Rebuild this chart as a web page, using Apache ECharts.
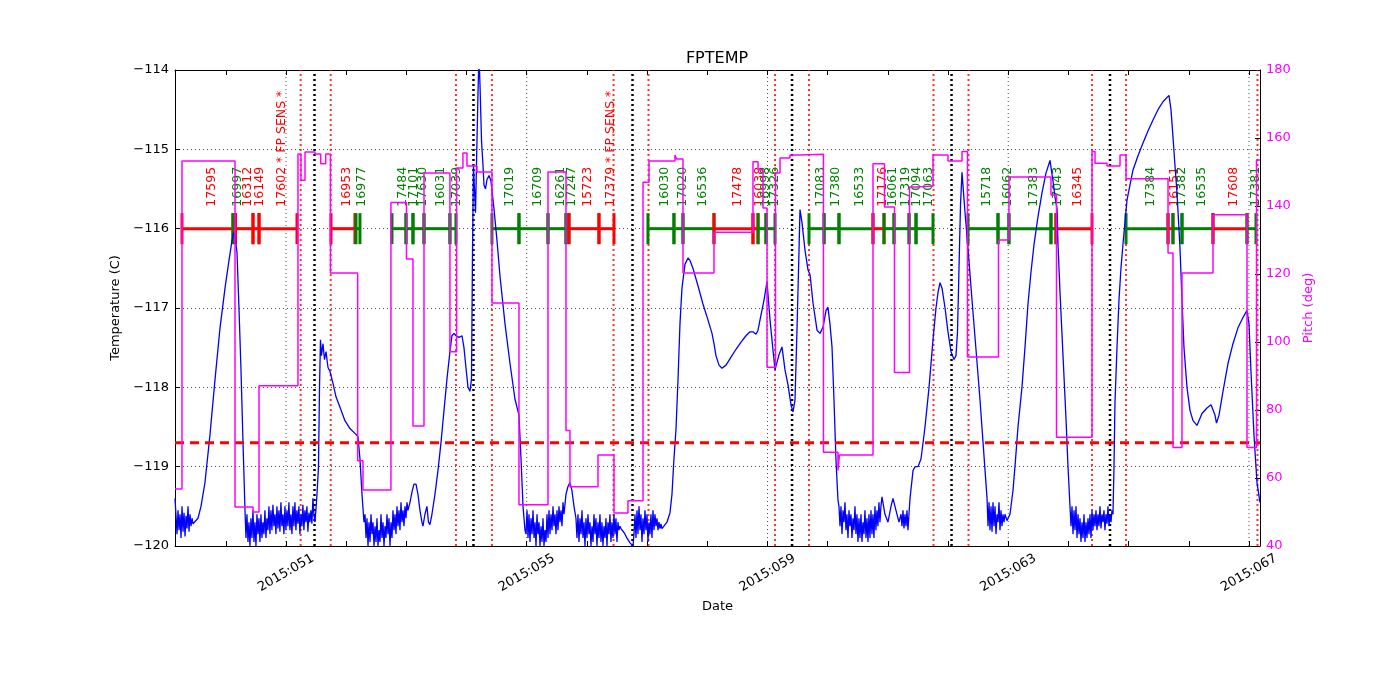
<!DOCTYPE html>
<html><head><meta charset="utf-8">
<script src="https://cdn.jsdelivr.net/npm/echarts@6/dist/echarts.min.js"></script>
<style>html,body{margin:0;padding:0;background:#fff}#c{width:1400px;height:700px}</style>
</head><body><div id="c"></div>
<script>
// ---------- DATA (time in fractional day-of-year 2015) ----------
const X_MIN = 49.156, X_MAX = 67.183;
const dayTicks = [50,51,52,53,54,55,56,57,58,59,60,61,62,63,64,65,66,67];
const dayLabels = [51,55,59,63,67];
const tempTicks = [-120,-119,-118,-117,-116,-115,-114];
const pitchTicks = [40,60,80,100,120,140,160,180];
const planningLimit = -118.7;
const sensLines = [51.244,51.743,53.824,54.422,56.442,57.023,59.125,59.690,61.758,62.340,64.392,64.957,67.141];
const perigeeLines = [51.474,54.115,56.757,59.408,62.058,64.691];

// FPTEMP: smooth stretches as [day, degC]; noisy stretches as regularly sampled values
const DT = 0.0166;
const T0 = [[49.156,-119.40]];
const N1 = {t0:49.173, v:[-119.62,-119.85,-119.55,-119.8,-119.6,-119.9,-119.5,-119.82,-119.58,-119.88,-119.62,-119.78,-119.5,-119.82,-119.6,-119.75,-119.65,-119.72]};
const S1 = [[49.488,-119.70],[49.538,-119.65],[49.588,-119.5],[49.654,-119.2],[49.737,-118.6],[49.821,-117.9],[49.904,-117.25],[49.987,-116.75],[50.053,-116.4],[50.103,-116.15],[50.128,-116.05],[50.153,-116.1],[50.186,-116.3],[50.219,-117.0],[50.253,-117.8],[50.286,-118.7],[50.319,-119.55]];
const N2 = {t0:50.335, v:[-119.9,-119.6,-119.95,-119.7,-120.0,-119.65,-119.9,-119.55,-119.95,-119.7,-120.0,-119.6,-119.85,-119.65,-119.95,-119.6,-119.9,-119.7,-119.85,-119.55,-119.9,-119.65,-119.8,-119.5,-119.85,-119.55,-119.8,-119.48,-119.75,-119.6,-119.85,-119.5,-119.78,-119.55,-119.82,-119.45,-119.75,-119.6,-119.85,-119.5,-119.8,-119.55,-119.75,-119.45,-119.8,-119.6,-119.85,-119.5,-119.75,-119.45,-119.8,-119.55,-119.72,-119.5,-119.85,-119.6,-119.75,-119.48,-119.8,-119.55,-119.7,-119.5,-119.82,-119.58,-119.7,-119.55,-119.72,-119.4,-119.6,-119.7,-119.55]};
const S2 = [[51.515,-119.35],[51.540,-119.0],[51.557,-118.0],[51.573,-117.4],[51.590,-117.6],[51.615,-117.45],[51.640,-117.65],[51.665,-117.55],[51.698,-117.75],[51.731,-117.8],[51.781,-117.95],[51.831,-118.12],[51.897,-118.25],[51.980,-118.42],[52.063,-118.52],[52.146,-118.58],[52.196,-118.62],[52.229,-118.9],[52.263,-119.35],[52.296,-119.7]];
const N3 = {t0:52.313, v:[-119.6,-119.9,-119.65,-120.0,-119.7,-119.95,-119.6,-119.85,-119.7,-120.0,-119.75,-119.95,-119.65,-120.0,-119.8,-119.95,-119.6,-119.9,-119.7,-120.0,-119.75,-119.9,-119.6,-119.85,-119.65,-120.0,-119.7,-119.9,-119.55,-119.8,-119.6,-119.85,-119.5,-119.75,-119.55,-119.8,-119.45,-119.7,-119.55,-119.75,-119.5,-119.65,-119.45,-119.55]};
const S3 = [[53.060,-119.45],[53.093,-119.32],[53.126,-119.22],[53.160,-119.22],[53.193,-119.35],[53.226,-119.55],[53.259,-119.7],[53.276,-119.75],[53.309,-119.6],[53.342,-119.5],[53.367,-119.7],[53.392,-119.73],[53.425,-119.6],[53.475,-119.35],[53.525,-119.05],[53.575,-118.7],[53.624,-118.3],[53.674,-117.9],[53.724,-117.55],[53.757,-117.35],[53.791,-117.32],[53.824,-117.35],[53.874,-117.37],[53.924,-117.35],[53.957,-117.5],[53.990,-117.75],[54.024,-118.0],[54.057,-118.05],[54.082,-117.9],[54.099,-116.3],[54.115,-115.2],[54.132,-115.5],[54.149,-115.8],[54.165,-115.2],[54.190,-114.3],[54.207,-113.8],[54.224,-114.2],[54.249,-114.9],[54.273,-115.2],[54.290,-115.45],[54.315,-115.5],[54.340,-115.38],[54.373,-115.33],[54.406,-115.4],[54.456,-115.75],[54.506,-116.15],[54.556,-116.6],[54.639,-117.2],[54.722,-117.7],[54.805,-118.15],[54.871,-118.35],[54.905,-118.9],[54.938,-119.5],[54.971,-119.8]];
const N4 = {t0:54.988, v:[-119.85,-119.55,-119.9,-119.6,-119.95,-119.65,-119.85,-119.55,-119.9,-119.7,-120.0,-119.6,-119.85,-119.7,-120.0,-119.75,-119.95,-119.65,-120.0,-119.8,-119.95,-119.6,-119.9,-119.55,-119.85,-119.6,-119.8,-119.5,-119.75,-119.6,-119.85,-119.55,-119.8,-119.5,-119.7,-119.55,-119.75,-119.45,-119.6]};
const S4 = [[55.652,-119.35],[55.685,-119.25],[55.718,-119.2],[55.751,-119.3],[55.785,-119.5],[55.818,-119.65]];
const N5 = {t0:55.835, v:[-119.9,-119.6,-119.95,-119.65,-119.85,-119.55,-119.9,-119.7,-120.0,-119.65,-119.9,-119.6,-119.85,-119.7,-120.0,-119.75,-119.95,-119.6,-119.85,-119.65,-120.0,-119.7,-119.9,-119.6,-119.95,-119.7,-120.0,-119.75,-119.9,-119.65,-120.0,-119.7,-119.85,-119.6,-119.95,-119.7,-119.9,-119.6,-119.85,-119.65,-119.95,-119.7,-119.8,-119.75,-119.78]};
const S5 = [[56.616,-119.83],[56.666,-119.9],[56.716,-119.96],[56.766,-120.0]];
const N6 = {t0:56.782, v:[-119.85,-119.6,-119.9,-119.55,-119.85,-119.5,-119.8,-119.6,-119.95,-119.65,-119.85,-119.55,-119.8,-119.6,-119.95,-119.7,-119.85,-119.6,-119.9,-119.55,-119.8,-119.6,-119.75,-119.65,-119.8,-119.7,-119.78,-119.72,-119.78]};
const S6 = [[57.280,-119.76],[57.330,-119.7],[57.380,-119.58],[57.413,-119.35],[57.446,-118.9],[57.479,-118.54],[57.513,-117.91],[57.546,-117.2],[57.579,-116.75],[57.629,-116.45],[57.679,-116.37],[57.712,-116.4],[57.762,-116.5],[57.845,-116.72],[57.928,-116.95],[58.011,-117.15],[58.078,-117.32],[58.111,-117.45],[58.144,-117.6],[58.194,-117.72],[58.244,-117.76],[58.311,-117.72],[58.394,-117.62],[58.477,-117.52],[58.560,-117.43],[58.643,-117.35],[58.710,-117.3],[58.759,-117.3],[58.809,-117.33],[58.843,-117.28],[58.876,-117.15],[58.942,-116.9],[58.992,-116.67],[59.042,-117.15],[59.091,-117.53],[59.125,-117.78],[59.191,-117.59],[59.241,-117.49],[59.291,-117.78],[59.341,-117.97],[59.391,-118.22],[59.424,-118.31],[59.457,-118.16],[59.490,-117.28],[59.524,-116.27],[59.540,-115.76],[59.573,-115.92],[59.623,-116.27],[59.673,-116.52],[59.707,-116.58],[59.757,-116.94],[59.823,-117.28],[59.873,-117.32],[59.923,-117.24],[59.973,-117.03],[60.005,-116.99],[60.039,-117.21],[60.072,-117.49],[60.105,-118.16],[60.138,-118.92],[60.171,-119.42]];
const N7 = {t0:60.188, v:[-119.5,-119.75,-119.5,-119.85,-119.55,-119.7,-119.45,-119.8,-119.6,-119.9,-119.55,-119.75,-119.6,-119.9,-119.65,-119.8,-119.5,-119.85,-119.6,-119.95,-119.65,-119.9,-119.6,-119.95,-119.7,-119.85,-119.55,-119.9,-119.65,-119.95,-119.6,-119.9,-119.55,-119.85,-119.6,-119.9,-119.5,-119.8,-119.55,-119.75,-119.45,-119.7,-119.5]};
const S7 = [[60.902,-119.38],[60.952,-119.6],[61.002,-119.7],[61.052,-119.5],[61.085,-119.4],[61.135,-119.55],[61.185,-119.7]];
const N8 = {t0:61.218, v:[-119.6,-119.75,-119.55,-119.78,-119.6,-119.75,-119.55,-119.8,-119.6]};
const S8 = [[61.368,-119.4],[61.418,-119.05],[61.451,-119.0],[61.501,-119.0],[61.551,-118.9],[61.617,-118.5],[61.684,-118.0],[61.750,-117.4],[61.800,-117.0],[61.834,-116.8],[61.867,-116.68],[61.900,-116.75],[61.950,-117.0],[61.999,-117.3],[62.049,-117.55],[62.099,-117.65],[62.132,-117.6],[62.157,-117.3],[62.182,-116.5],[62.207,-115.7],[62.232,-115.29],[62.282,-115.8],[62.332,-116.25],[62.398,-116.9],[62.465,-117.53],[62.531,-118.16],[62.614,-119.04],[62.648,-119.4]];
const N9 = {t0:62.664, v:[-119.75,-119.45,-119.8,-119.5,-119.82,-119.45,-119.75,-119.5,-119.85,-119.6,-119.7,-119.45,-119.8,-119.55,-119.75,-119.6,-119.7,-119.6,-119.62,-119.68,-119.68]};
const S9 = [[63.029,-119.6],[63.079,-119.3],[63.112,-119.0],[63.162,-118.5],[63.228,-118.0],[63.278,-117.5],[63.328,-116.95],[63.378,-116.55],[63.428,-116.2],[63.494,-115.85],[63.561,-115.55],[63.627,-115.3],[63.694,-115.14],[63.744,-115.4],[63.777,-115.6],[63.810,-115.75],[63.827,-116.2],[63.860,-116.8],[63.910,-117.6],[63.960,-118.4],[63.993,-119.0],[64.026,-119.5]];
const N10 = {t0:64.043, v:[-119.75,-119.5,-119.85,-119.55,-119.8,-119.5,-119.9,-119.6,-119.85,-119.65,-119.95,-119.7,-119.9,-119.6,-119.95,-119.7,-119.9,-119.65,-119.85,-119.6,-119.9,-119.55,-119.8,-119.6,-119.75,-119.55,-119.8,-119.6,-119.75,-119.5,-119.78,-119.6,-119.7,-119.55,-119.8,-119.6,-119.72,-119.5,-119.75,-119.6,-119.7,-119.55,-119.6]};
const S10 = [[64.757,-119.0],[64.773,-118.2],[64.807,-117.5],[64.840,-116.9],[64.873,-116.5],[64.906,-116.2],[64.973,-115.64],[65.073,-115.26],[65.156,-115.08],[65.239,-114.92],[65.322,-114.77],[65.405,-114.63],[65.488,-114.5],[65.571,-114.4],[65.671,-114.32],[65.704,-114.5],[65.737,-114.84],[65.770,-115.2],[65.804,-115.55],[65.853,-116.23],[65.887,-116.9],[65.920,-117.5],[65.970,-118.0],[66.020,-118.29],[66.070,-118.42],[66.136,-118.48],[66.219,-118.33],[66.302,-118.26],[66.369,-118.22],[66.402,-118.2],[66.435,-118.35],[66.460,-118.45],[66.502,-118.35],[66.568,-118.05],[66.651,-117.7],[66.734,-117.45],[66.817,-117.25],[66.900,-117.12],[66.967,-117.03],[67.000,-117.2],[67.033,-117.8],[67.083,-118.6],[67.133,-119.2],[67.183,-119.45]];
const tempParts = [T0,N1,S1,N2,S2,N3,S3,N4,S4,N5,S5,N6,S6,N7,S7,N8,S8,N9,S9,N10,S10];

// Pitch (deg): value held from each time until the next
const pitchTimes = [49.156,49.272,50.153,50.452,50.552,51.199,51.249,51.316,51.482,51.577,51.660,51.739,52.191,52.279,52.744,53.002,53.110,53.293,53.724,53.835,53.940,54.007,54.173,54.422,54.871,55.353,55.652,55.718,56.184,56.450,56.682,56.932,57.031,57.463,57.488,57.596,58.111,58.759,58.843,58.926,58.992,59.133,59.208,59.374,59.540,59.930,60.171,60.196,60.753,60.944,61.110,61.360,61.501,61.750,61.999,62.232,62.323,62.838,63.012,63.710,63.802,64.392,64.442,64.641,64.857,64.957,65.655,65.737,65.887,66.402,66.967,67.125,67.183];
const pitchValues = [56.8,153.2,51.5,50.0,87.1,155.3,147.6,155.9,155.3,152.4,155.3,120.3,65.1,56.5,141.0,124.4,75.3,149.7,97.1,151.2,155.6,151.8,150.0,111.5,52.1,150.0,74.0,57.4,66.8,49.7,53.3,147.0,153.2,155.0,153.8,120.3,132.3,153.0,150.6,139.4,92.6,149.7,154.1,155.0,155.2,67.6,62.2,66.8,152.4,139.7,91.0,145.6,145.9,155.0,153.2,156.0,95.6,130.0,148.5,143.2,72.0,156.0,152.6,151.8,155.0,148.0,126.2,69.0,120.3,137.4,69.0,153.5,153.5];

// Observations
const obsStart = [49.272,50.119,50.161,50.452,50.552,51.748,52.163,52.761,52.994,53.110,53.293,53.724,54.422,54.871,55.353,55.652,55.702,56.200,57.014,57.446,57.596,58.111,58.759,58.843,58.975,59.690,59.940,60.188,60.753,60.936,61.102,61.352,61.468,62.332,62.830,63.012,63.710,63.793,64.957,65.655,65.737,65.887,66.402,66.967];
const obsStop = [50.119,50.161,50.452,50.552,51.183,52.146,52.229,52.994,53.110,53.293,53.724,53.824,54.871,55.353,55.652,55.702,56.200,56.450,57.446,57.596,58.111,58.759,58.843,58.975,59.125,59.940,60.188,60.753,60.936,61.102,61.352,61.468,61.750,62.830,63.012,63.710,63.793,64.392,65.655,65.737,65.887,66.402,66.967,67.116];
const obsIds = ['17595','16997','16312','16149','17602 * FP SENS *','16953','16977','17484','17101','17630','16031','17039','17019','16709','16261','17247','15723','17379 * FP SENS *','16030','17020','16536','17478','16038','16998','17326','17083','17380','16533','17176','16061','17319','17094','17063','15718','16062','17383','17043','16345','17384','16151','17382','16535','17608','17381'];
const obsHot = ['r','g','r','r','r','r','g','g','g','g','g','g','g','g','g','g','r','r','g','g','g','r','r','g','g','g','g','g','r','g','g','g','g','g','g','g','g','r','g','r','g','g','r','g'];
const obsLevel = -116;

// ---------- BUILD ----------
const tempData = [];
tempParts.forEach(p => {
  if (Array.isArray(p)) p.forEach(q => tempData.push(q));
  else p.v.forEach((v, i) => tempData.push([+(p.t0 + i * DT).toFixed(4), v]));
});
const pitchData = pitchTimes.map((t, i) => [t, pitchValues[i]]);
const obsData = obsStart.map((s, i) => [s, obsStop[i], obsLevel, i]);
const FONT = '"DejaVu Sans", sans-serif';
const RED = '#ff0000', GREEN = '#008000';

function vlineSeries(vals, color, width, dash) {
  return {
    type: 'custom', xAxisIndex: 0, yAxisIndex: 0, silent: true, clip: false,
    data: vals.map(v => [v, -120]), encode: {x: 0, y: 1},
    renderItem(params, api) {
      const a = api.coord([api.value(0), -120]);
      const b = api.coord([api.value(0), -114]);
      return {type: 'line', shape: {x1: a[0], y1: a[1], x2: b[0], y2: b[1]},
        style: {stroke: color, lineWidth: width, lineDash: dash}};
    }
  };
}

const chart = echarts.init(document.getElementById('c'), null, {renderer: 'canvas'});
chart.setOption({
  backgroundColor: '#fff',
  animation: false,
  textStyle: {fontFamily: FONT},
  title: {text: 'FPTEMP', left: 717, top: 51, textAlign: 'center', padding: 0,
    textStyle: {fontFamily: FONT, fontSize: 16, fontWeight: 'normal', color: '#000'}},
  grid: {left: 175, right: 140, top: 70, bottom: 154, containLabel: false},
  xAxis: [{
    type: 'value', min: X_MIN, max: X_MAX, position: 'bottom',
    name: 'Date', nameLocation: 'middle', nameGap: 50,
    nameTextStyle: {fontFamily: FONT, fontSize: 13, color: '#000'},
    axisLine: {show: true, onZero: false, lineStyle: {color: '#000', width: 1}},
    axisTick: {show: true, inside: true, length: 5, customValues: dayTicks, lineStyle: {color: '#000'}},
    axisLabel: {show: true, customValues: dayLabels, rotate: 30, align: 'center', verticalAlign: 'middle', margin: 27,
      fontFamily: FONT, fontSize: 13, color: '#000',
      formatter: v => '2015:' + String(Math.round(v)).padStart(3, '0')},
    splitLine: {show: false}
  }, {
    type: 'value', min: X_MIN, max: X_MAX, position: 'top',
    axisLine: {show: true, onZero: false, lineStyle: {color: '#000', width: 1}},
    axisTick: {show: true, inside: true, length: 5, customValues: dayTicks, lineStyle: {color: '#000'}},
    axisLabel: {show: false}, splitLine: {show: false}
  }],
  yAxis: [{
    type: 'value', min: -120, max: -114, interval: 1, position: 'left',
    name: 'Temperature (C)', nameLocation: 'middle', nameGap: 46, nameRotate: 90,
    nameTextStyle: {fontFamily: FONT, fontSize: 13, color: '#000'},
    axisLine: {show: true, lineStyle: {color: '#000', width: 1}},
    axisTick: {show: true, inside: true, length: 5, lineStyle: {color: '#000'}},
    axisLabel: {margin: 6, fontFamily: FONT, fontSize: 13, color: '#000',
      formatter: v => (v < 0 ? '\u2212' : '') + Math.abs(v)},
    splitLine: {show: true, lineStyle: {color: '#000', width: 0.7, type: [1, 3]}}
  }, {
    type: 'value', min: 40, max: 180, interval: 20, position: 'right',
    name: 'Pitch (deg)', nameLocation: 'middle', nameGap: 34, nameRotate: 90,
    nameTextStyle: {fontFamily: FONT, fontSize: 13, color: '#ff00ff'},
    axisLine: {show: true, lineStyle: {color: '#000', width: 1}},
    axisTick: {show: true, inside: true, length: 5, lineStyle: {color: '#000'}},
    axisLabel: {margin: 6, fontFamily: FONT, fontSize: 13, color: '#ff00ff'},
    splitLine: {show: false}
  }],
  series: [
    vlineSeries(dayLabels, '#000', 0.7, [1, 3]),
    vlineSeries(sensLines, 'rgba(255,0,0,0.8)', 2, [2, 3]),
    vlineSeries(perigeeLines, '#000', 2.5, [2, 3]),
    {
      name: 'FPTEMP', type: 'line', xAxisIndex: 0, yAxisIndex: 0, data: tempData,
      showSymbol: false, symbol: 'none', clip: true,
      lineStyle: {color: '#0000ff', width: 1.3}
    },
    {
      name: 'obs', type: 'custom', xAxisIndex: 0, yAxisIndex: 0, clip: false, silent: true,
      data: obsData, encode: {x: [0, 1], y: 2},
      renderItem(params, api) {
        const s = api.coord([api.value(0), api.value(2)]);
        const e = api.coord([api.value(1), api.value(2)]);
        const i = api.value(3);
        const col = obsHot[i] === 'r' ? RED : GREEN;
        const mid = (s[0] + e[0]) / 2;
        return {type: 'group', children: [
          {type: 'line', shape: {x1: s[0], y1: s[1], x2: e[0], y2: e[1]}, style: {stroke: col, lineWidth: 3}},
          {type: 'rect', shape: {x: s[0] - 1.5, y: s[1] - 15.5, width: 3, height: 31}, style: {fill: col}},
          {type: 'rect', shape: {x: e[0] - 1.5, y: e[1] - 15.5, width: 3, height: 31}, style: {fill: col}},
          {type: 'text', x: mid + 4, y: s[1] - 22, rotation: Math.PI / 2,
            style: {text: obsIds[i], fill: col, font: '12.5px ' + FONT, align: 'left', verticalAlign: 'middle'}}
        ]};
      }
    },
    {
      name: 'limit', type: 'line', xAxisIndex: 0, yAxisIndex: 0, silent: true,
      data: [[X_MIN, planningLimit], [X_MAX, planningLimit]], showSymbol: false, symbol: 'none',
      lineStyle: {color: RED, width: 3, type: [9, 6]}
    },
    {
      name: 'Pitch', type: 'line', xAxisIndex: 0, yAxisIndex: 1, data: pitchData, step: 'end',
      showSymbol: false, symbol: 'none', lineStyle: {color: '#ff00ff', width: 1.5}
    }
  ]
});
</script></body></html>
